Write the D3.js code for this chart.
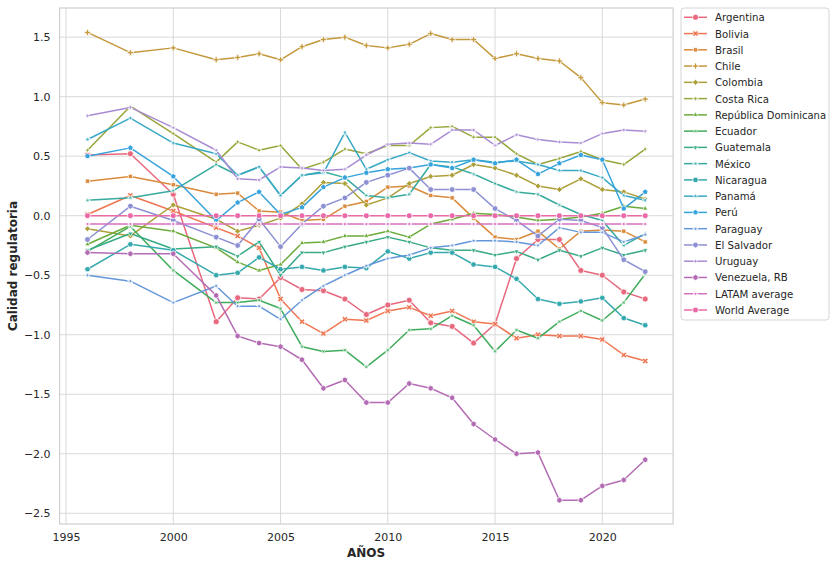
<!DOCTYPE html>
<html>
<head>
<meta charset="utf-8">
<script src="https://cdn.jsdelivr.net/npm/d3@7"></script>
<style>
  body { margin: 0; background: #fff; }
  svg text { font-family: "DejaVu Sans", sans-serif; fill: #262626; }
</style>
</head>
<body>
<svg id="chart" width="837" height="566"></svg>
<script>
// years on the x axis (1996, 1998, 2000, then yearly)
var years = [1996, 1998, 2000, 2002, 2003, 2004, 2005, 2006, 2007, 2008, 2009, 2010,
             2011, 2012, 2013, 2014, 2015, 2016, 2017, 2018, 2019, 2020, 2021, 2022];

var countries = ["Argentina", "Bolivia", "Brasil", "Chile", "Colombia", "Costa Rica",
  "República Dominicana", "Ecuador", "Guatemala", "México", "Nicaragua", "Panamá",
  "Perú", "Paraguay", "El Salvador", "Uruguay", "Venezuela, RB", "LATAM average", "World Average"];

var argentina = [0.51, 0.52, 0.18, -0.89, -0.69, -0.70, -0.52, -0.62, -0.63, -0.70, -0.83, -0.75, -0.71, -0.90, -0.93, -1.07, -0.91, -0.36, -0.20, -0.20, -0.46, -0.50, -0.64, -0.70];
var bolivia   = [0.01, 0.17, 0.04, -0.10, -0.17, -0.27, -0.70, -0.89, -0.99, -0.87, -0.88, -0.80, -0.77, -0.84, -0.80, -0.89, -0.91, -1.03, -1.00, -1.01, -1.01, -1.04, -1.17, -1.22];
var brasil    = [0.29, 0.33, 0.26, 0.18, 0.19, 0.04, 0.03, -0.04, -0.03, 0.08, 0.12, 0.24, 0.25, 0.17, 0.15, -0.02, -0.18, -0.20, -0.13, -0.28, -0.13, -0.12, -0.13, -0.22];
var chile     = [1.54, 1.37, 1.41, 1.31, 1.33, 1.36, 1.31, 1.42, 1.48, 1.50, 1.43, 1.41, 1.44, 1.53, 1.48, 1.48, 1.32, 1.36, 1.32, 1.30, 1.16, 0.95, 0.93, 0.98];
var colombia  = [-0.11, -0.17, 0.09, -0.03, -0.13, -0.08, -0.02, 0.10, 0.28, 0.27, 0.09, 0.15, 0.27, 0.33, 0.34, 0.43, 0.40, 0.34, 0.25, 0.22, 0.31, 0.22, 0.20, 0.14];
var costaRica = [0.55, 0.92, 0.69, 0.45, 0.62, 0.55, 0.59, 0.39, 0.45, 0.56, 0.52, 0.59, 0.59, 0.74, 0.75, 0.66, 0.66, 0.52, 0.43, 0.48, 0.54, 0.47, 0.43, 0.56];
var repDom    = [-0.24, -0.08, -0.13, -0.27, -0.39, -0.46, -0.41, -0.23, -0.22, -0.17, -0.17, -0.13, -0.18, -0.07, -0.03, 0.02, 0.01, -0.01, -0.04, -0.03, -0.01, 0.02, 0.08, 0.06];
var ecuador   = [-0.30, -0.09, -0.46, -0.73, -0.73, -0.71, -0.78, -1.10, -1.14, -1.13, -1.27, -1.13, -0.96, -0.95, -0.84, -0.92, -1.14, -0.96, -1.03, -0.89, -0.80, -0.88, -0.73, -0.49];
var guatemala = [-0.29, -0.15, -0.28, -0.26, -0.34, -0.22, -0.50, -0.31, -0.31, -0.26, -0.22, -0.18, -0.22, -0.27, -0.29, -0.29, -0.33, -0.30, -0.37, -0.29, -0.34, -0.27, -0.33, -0.29];
var mexico    = [0.13, 0.15, 0.21, 0.43, 0.34, 0.41, 0.17, 0.34, 0.37, 0.32, 0.17, 0.15, 0.18, 0.43, 0.41, 0.35, 0.27, 0.20, 0.18, 0.09, 0.01, -0.04, -0.25, -0.15];
var nicaragua = [-0.45, -0.24, -0.29, -0.50, -0.48, -0.35, -0.45, -0.43, -0.46, -0.43, -0.44, -0.30, -0.36, -0.31, -0.31, -0.41, -0.43, -0.53, -0.70, -0.74, -0.72, -0.69, -0.86, -0.92];
var panama    = [0.64, 0.82, 0.61, 0.52, 0.34, 0.41, 0.17, 0.34, 0.36, 0.70, 0.39, 0.47, 0.53, 0.46, 0.45, 0.47, 0.45, 0.46, 0.43, 0.38, 0.38, 0.32, 0.17, 0.13];
var peru      = [0.50, 0.57, 0.33, -0.04, 0.11, 0.20, 0.01, 0.07, 0.24, 0.32, 0.36, 0.39, 0.40, 0.43, 0.40, 0.47, 0.44, 0.47, 0.35, 0.44, 0.51, 0.47, 0.06, 0.20];
var paraguay  = [-0.50, -0.55, -0.73, -0.59, -0.76, -0.76, -0.87, -0.71, -0.59, -0.50, -0.42, -0.36, -0.33, -0.27, -0.25, -0.21, -0.21, -0.22, -0.25, -0.10, -0.14, -0.14, -0.22, -0.16];
var elSalvador = [-0.20, 0.08, -0.04, -0.18, -0.25, -0.03, -0.26, -0.07, 0.08, 0.15, 0.28, 0.34, 0.40, 0.22, 0.22, 0.22, 0.06, -0.04, -0.17, -0.03, -0.04, -0.10, -0.37, -0.47];
var uruguay   = [0.84, 0.91, 0.74, 0.55, 0.31, 0.30, 0.41, 0.40, 0.38, 0.39, 0.51, 0.60, 0.61, 0.60, 0.72, 0.72, 0.59, 0.68, 0.64, 0.62, 0.61, 0.69, 0.72, 0.71];
var venezuela = [-0.31, -0.32, -0.32, -0.67, -1.01, -1.07, -1.10, -1.21, -1.45, -1.38, -1.57, -1.57, -1.41, -1.45, -1.53, -1.75, -1.88, -2.00, -1.99, -2.39, -2.39, -2.27, -2.22, -2.05];
var latam     = [-0.07, -0.07, -0.07, -0.07, -0.07, -0.07, -0.07, -0.07, -0.07, -0.07, -0.07, -0.07, -0.07, -0.07, -0.07, -0.07, -0.07, -0.07, -0.07, -0.07, -0.07, -0.07, -0.07, -0.07];
var world     = [0, 0, 0, 0, 0, 0, 0, 0, 0, 0, 0, 0, 0, 0, 0, 0, 0, 0, 0, 0, 0, 0, 0, 0];

var seriesValues = [argentina, bolivia, brasil, chile, colombia, costaRica, repDom, ecuador,
  guatemala, mexico, nicaragua, panama, peru, paraguay, elSalvador, uruguay, venezuela, latam, world];

var xTicks = [1995, 2000, 2005, 2010, 2015, 2020];
var yTicks = [-2.5, -2.0, -1.5, -1.0, -0.5, 0.0, 0.5, 1.0, 1.5];

var colors = ["#e8687e", "#ef7652", "#d98a3a", "#c3983a", "#ad9f39", "#98a53a", "#6cab3b",
  "#3fac5c", "#39aa86", "#37aa9e", "#36a9ae", "#38a9c4", "#36a3dc", "#6497d9", "#8d90d3",
  "#a88bd2", "#b36cb3", "#d66fbf", "#e96aa7"];

// seaborn-like marker list
var markers = ["o", "X", [4, 0, 45], "P", [4, 0, 0], [4, 1, 0], "^", [4, 1, 45], "v",
  [6, 1, 30], [6, 0, 30], [5, 1, 0], [5, 0, 0], [7, 1, 25.7], [7, 0, 25.7], [6, 1, 0],
  [6, 0, 0], [8, 1, 22.5], [8, 0, 22.5]];

var svg = d3.select("#chart");

var x = d3.scaleLinear().domain([1994.7, 2023.3]).range([59.6, 673.1]);
var y = d3.scaleLinear().domain([-2.59, 1.745]).range([524, 8]);

function polyPath(n, star, angle, r) {
  var m = star ? n * 2 : n, pts = [];
  for (var k = 0; k < m; k++) {
    var rr = (star && k % 2) ? r * 0.381966 : r;
    var th = (90 + angle) * Math.PI / 180 + k * 2 * Math.PI / m;
    pts.push([(rr * Math.cos(th)).toFixed(2), (-rr * Math.sin(th)).toFixed(2)]);
  }
  return "M" + pts.join("L") + "Z";
}

function plusPath(r, rot) {
  var a = r / 3;
  var base = [[-a, -r], [a, -r], [a, -a], [r, -a], [r, a], [a, a], [a, r], [-a, r], [-a, a], [-r, a], [-r, -a], [-a, -a]];
  var c = Math.cos(rot), s = Math.sin(rot);
  return "M" + base.map(function(p) {
    return [(p[0] * c - p[1] * s).toFixed(2), (p[0] * s + p[1] * c).toFixed(2)];
  }).join("L") + "Z";
}

function markerPath(m) {
  var r = 3;
  if (m === "o") return d3.symbol().type(d3.symbolCircle).size(Math.PI * r * r)();
  if (m === "X") return plusPath(r * 1.05, Math.PI / 4);
  if (m === "P") return plusPath(r, 0);
  if (m === "^") return polyPath(3, 0, 0, r);
  if (m === "v") return polyPath(3, 0, 180, r);
  return polyPath(m[0], m[1], m[2], r);
}

// grid
var grid = svg.append("g");
grid.selectAll(".gx").data(xTicks).enter().append("line")
  .attr("x1", function(d) { return x(d); }).attr("x2", function(d) { return x(d); })
  .attr("y1", 8).attr("y2", 524)
  .attr("stroke", "#d9d9d9").attr("stroke-width", 1);
grid.selectAll(".gy").data(yTicks).enter().append("line")
  .attr("x1", 59.6).attr("x2", 673.1)
  .attr("y1", function(d) { return y(d); }).attr("y2", function(d) { return y(d); })
  .attr("stroke", "#d9d9d9").attr("stroke-width", 1);

// frame
svg.append("rect").attr("x", 59.6).attr("y", 8).attr("width", 673.1 - 59.6).attr("height", 516)
  .attr("fill", "none").attr("stroke", "#cfcfcf").attr("stroke-width", 1.2);

// axes
var fmt = function(d) { return d3.format(".1f")(d).replace("-", "\u2212"); };
var xAxis = svg.append("g").attr("transform", "translate(0,524)")
  .call(d3.axisBottom(x).tickValues(xTicks).tickFormat(d3.format("d")).tickSize(0).tickPadding(9));
var yAxis = svg.append("g").attr("transform", "translate(59.6,0)")
  .call(d3.axisLeft(y).tickValues(yTicks).tickFormat(fmt).tickSize(0).tickPadding(9));
[xAxis, yAxis].forEach(function(a) {
  a.select(".domain").remove();
  a.selectAll("text").attr("font-size", 11).attr("fill", "#262626")
    .style("font-family", "DejaVu Sans, sans-serif");
});

svg.append("text").attr("x", 366).attr("y", 557).attr("text-anchor", "middle")
  .attr("font-size", 12).attr("font-weight", "bold").text("AÑOS");
svg.append("text").attr("transform", "translate(17,266) rotate(-90)").attr("text-anchor", "middle")
  .attr("font-size", 12).attr("font-weight", "bold").text("Calidad regulatoria");

// lines and markers
var line = d3.line()
  .x(function(d, i) { return x(years[i]); })
  .y(function(d) { return y(d); });

seriesValues.forEach(function(vals, si) {
  var g = svg.append("g");
  g.append("path").datum(vals).attr("d", line)
    .attr("fill", "none").attr("stroke", colors[si]).attr("stroke-width", 1.5)
    .attr("stroke-linejoin", "round");
  var mp = markerPath(markers[si]);
  g.selectAll("path.mk").data(vals).enter().append("path")
    .attr("class", "mk")
    .attr("d", mp)
    .attr("transform", function(d, i) { return "translate(" + x(years[i]) + "," + y(d) + ")"; })
    .attr("fill", colors[si]).attr("stroke", "#fff").attr("stroke-width", 0.75);
});

// legend
var lg = svg.append("g");
lg.append("rect").attr("x", 681).attr("y", 8).attr("width", 148).attr("height", 312).attr("rx", 3)
  .attr("fill", "#fff").attr("fill-opacity", 0.8).attr("stroke", "#d6d6d6").attr("stroke-width", 1);
countries.forEach(function(name, i) {
  var cy = 17.3 + i * 16.26;
  lg.append("line").attr("x1", 684).attr("x2", 707).attr("y1", cy).attr("y2", cy)
    .attr("stroke", colors[i]).attr("stroke-width", 1.5);
  lg.append("path").attr("d", markerPath(markers[i]))
    .attr("transform", "translate(695.5," + cy + ")")
    .attr("fill", colors[i]).attr("stroke", "#fff").attr("stroke-width", 0.75);
  var t = lg.append("text").attr("x", 715).attr("y", cy + 4).attr("font-size", 10.2).text(name);
  // squeeze the long label so it stays inside the frame
  if (t.node().getComputedTextLength() > 111) {
    t.attr("textLength", 111).attr("lengthAdjust", "spacingAndGlyphs");
  }
});
</script>
</body>
</html>
